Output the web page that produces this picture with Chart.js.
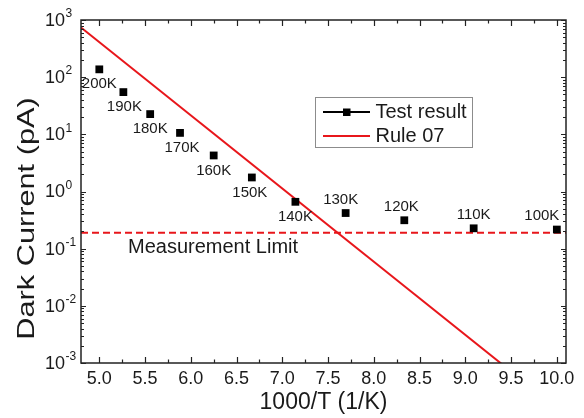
<!DOCTYPE html>
<html lang="en">
<head>
<meta charset="UTF-8">
<title>Dark Current vs 1000/T</title>
<script src="https://cdn.jsdelivr.net/npm/chart.js"></script>
<style>
  html, body { margin: 0; padding: 0; background: #fff; }
  #wrap { width: 584px; height: 418px; }
</style>
</head>
<body>
<div id="wrap"><canvas id="dark-chart"></canvas></div>
<script>
const temps = ['200K', '190K', '180K', '170K', '160K', '150K', '140K', '130K', '120K', '110K', '100K'];
const invTemp = [5.0, 5.263, 5.556, 5.882, 6.25, 6.667, 7.143, 7.692, 8.333, 9.091, 10.0];
const darkCurrent = [137, 54.8, 22.6, 10.6, 4.27, 1.76, 0.66, 0.42, 0.314, 0.227, 0.216];

// Rule 07 reference line (two end points, straight on the log axis)
const ruleX = [4.8, 9.5];
const ruleY = [740, 7.1e-4];

// measurement limit
const limitX = [4.8, 10.1];
const limitY = [0.19, 0.19];

const xTicks = [5.0, 5.5, 6.0, 6.5, 7.0, 7.5, 8.0, 8.5, 9.0, 9.5, 10.0];
const yExponents = [-3, -2, -1, 0, 1, 2, 3];

const RED = '#e8161b';
const FONT = '"Liberation Sans", Arial, sans-serif';

const toPoints = (xs, ys) => xs.map((v, i) => ({ x: v, y: ys[i] }));

// axes, labels and legend drawn in Origin style (inward ticks, boxed frame)
const originAxes = {
    id: 'originAxes',
    afterDatasetsDraw(chart) {
        const { ctx, chartArea: a, scales: { x, y } } = chart;
        ctx.save();

        // temperature labels next to each point
        const labelDx = [0, 1, 0, 2, 0, -2, 0, -5, -3, 0, -15];
        ctx.font = '15px ' + FONT;
        ctx.fillStyle = '#1a1a1a';
        ctx.textAlign = 'center';
        ctx.textBaseline = 'middle';
        temps.forEach((t, i) => {
            const px = x.getPixelForValue(invTemp[i]);
            const py = y.getPixelForValue(darkCurrent[i]);
            const dy = i < 7 ? 15 : -13.5;
            ctx.fillText(t, px + labelDx[i], py + dy);
        });

        // measurement limit text
        ctx.font = '20px ' + FONT;
        ctx.textAlign = 'left';
        ctx.fillText('Measurement Limit', a.left + 47, y.getPixelForValue(limitY[0]) + 15);

        // frame
        ctx.strokeStyle = '#222';
        ctx.lineWidth = 1.5;
        ctx.strokeRect(a.left, a.top, a.width, a.height);

        // x ticks, bottom and top, pointing inward
        ctx.lineWidth = 1.2;
        ctx.beginPath();
        const xMinor = xTicks.map(v => v + 0.25).filter(v => v < x.max);
        xTicks.forEach(v => {
            const px = Math.round(x.getPixelForValue(v)) + 0.5;
            ctx.moveTo(px, a.bottom); ctx.lineTo(px, a.bottom - 6);
            ctx.moveTo(px, a.top); ctx.lineTo(px, a.top + 6);
        });
        xMinor.forEach(v => {
            const px = Math.round(x.getPixelForValue(v)) + 0.5;
            ctx.moveTo(px, a.bottom); ctx.lineTo(px, a.bottom - 3.5);
            ctx.moveTo(px, a.top); ctx.lineTo(px, a.top + 3.5);
        });

        // y ticks, left and right, decades plus 2..9 minors
        yExponents.forEach(e => {
            const py = Math.round(y.getPixelForValue(Math.pow(10, e))) + 0.5;
            ctx.moveTo(a.left, py); ctx.lineTo(a.left + 5, py);
            ctx.moveTo(a.right, py); ctx.lineTo(a.right - 5, py);
            if (e < 3) {
                for (let m = 2; m <= 9; m++) {
                    const pm = Math.round(y.getPixelForValue(m * Math.pow(10, e))) + 0.5;
                    ctx.moveTo(a.left, pm); ctx.lineTo(a.left + 3, pm);
                    ctx.moveTo(a.right, pm); ctx.lineTo(a.right - 3, pm);
                }
            }
        });
        ctx.stroke();

        // x tick labels
        ctx.fillStyle = '#1a1a1a';
        ctx.font = '18px ' + FONT;
        ctx.textAlign = 'center';
        ctx.textBaseline = 'middle';
        xTicks.forEach(v => {
            ctx.fillText(v.toFixed(1), x.getPixelForValue(v), a.bottom + 16);
        });

        // y tick labels as 10 with superscript exponent
        yExponents.forEach(e => {
            const py = y.getPixelForValue(Math.pow(10, e));
            ctx.font = '18px ' + FONT;
            ctx.textAlign = 'right';
            ctx.fillText('10', a.left - 16, py + 1);
            ctx.font = '12px ' + FONT;
            ctx.textAlign = 'left';
            ctx.fillText(e < 0 ? '-' + (-e) : String(e), a.left - 15.5, py - 6);
        });

        // axis titles
        ctx.font = '23px ' + FONT;
        ctx.textAlign = 'center';
        ctx.fillText('1000/T (1/K)', (a.left + a.right) / 2, 403);

        ctx.save();
        ctx.translate(27.5, 218.5);
        ctx.rotate(-Math.PI / 2);
        ctx.scale(1.28, 1);
        ctx.font = '24px ' + FONT;
        ctx.fillText('Dark Current (pA)', 0, 0);
        ctx.restore();

        // legend
        ctx.strokeStyle = '#8c8c8c';
        ctx.lineWidth = 1;
        ctx.strokeRect(315.5, 97.5, 157, 50);
        ctx.lineWidth = 2;
        ctx.strokeStyle = '#000';
        ctx.beginPath(); ctx.moveTo(323, 112); ctx.lineTo(370, 112); ctx.stroke();
        ctx.fillStyle = '#000';
        ctx.fillRect(343, 108.5, 7.5, 7.5);
        ctx.strokeStyle = RED;
        ctx.beginPath(); ctx.moveTo(323, 136); ctx.lineTo(370, 136); ctx.stroke();
        ctx.fillStyle = '#1a1a1a';
        ctx.font = '20px ' + FONT;
        ctx.textAlign = 'left';
        ctx.fillText('Test result', 375.5, 112);
        ctx.fillText('Rule 07', 375.5, 136);

        ctx.restore();
    }
};

new Chart(document.getElementById('dark-chart'), {
    type: 'scatter',
    data: {
        datasets: [
            {
                label: 'Test result',
                data: toPoints(invTemp, darkCurrent),
                showLine: false,
                pointStyle: 'rect',
                pointRadius: 5.5,
                backgroundColor: '#000',
                borderWidth: 0
            },
            {
                label: 'Rule 07',
                data: toPoints(ruleX, ruleY),
                showLine: true,
                borderColor: RED,
                borderWidth: 2,
                pointRadius: 0
            },
            {
                label: 'Measurement Limit',
                data: toPoints(limitX, limitY),
                showLine: true,
                borderColor: RED,
                borderWidth: 2,
                borderDash: [7, 4],
                pointRadius: 0
            }
        ]
    },
    options: {
        responsive: true,
        maintainAspectRatio: false,
        animation: false,
        events: [],
        layout: { padding: { left: 81, right: 18, top: 20, bottom: 55 } },
        plugins: {
            legend: { display: false },
            tooltip: { enabled: false }
        },
        scales: {
            x: { type: 'linear', min: 4.8, max: 10.1, display: false },
            y: { type: 'logarithmic', min: 1e-3, max: 1e3, display: false }
        }
    },
    plugins: [originAxes]
});
</script>
</body>
</html>
